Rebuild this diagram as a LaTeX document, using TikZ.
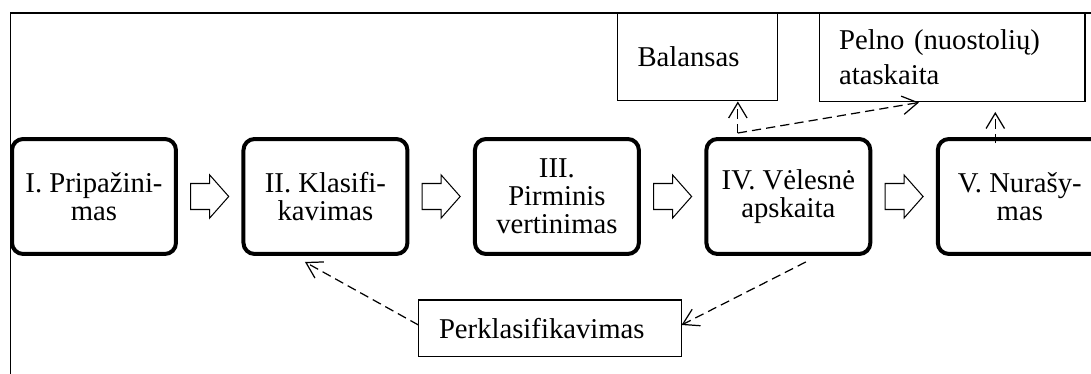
\documentclass[tikz,border=0pt]{standalone}
\usepackage{fontspec}
\setmainfont{Liberation Serif}
\usetikzlibrary{arrows.meta,positioning,calc}

\begin{document}
\begin{tikzpicture}[
  x=0.488pt,y=0.488pt,
  font=\fontsize{14}{13.7}\selectfont,
  node distance=31pt,
  stage/.style={rectangle,rounded corners=5.4pt,draw,line width=1.95pt,
                minimum width=80pt,minimum height=56.1pt,
                align=center,inner sep=2pt},
  outbox/.style={rectangle,draw,line width=0.5pt,align=left,
                 inner xsep=9.8pt,inner ysep=0pt},
  frame/.style={draw,line width=0.5pt},
  blk/.style={draw,line width=0.5pt,fill=white,line join=miter},
  dasharr/.style={line width=0.6pt,dash pattern=on 4.5pt off 2.5pt,
                  -{Straight Barb[length=7.5pt,width=9pt]}}
]
% Page: 1091 x 374 px, y counted from the bottom.
\useasboundingbox (0,0) rectangle (1091,374);
\clip (0,0) rectangle (1091,374);
\draw[frame] (10.5,361) rectangle (1120,-20);

% --- Stages
\node[stage] (sI) at (94,177.5) {I. Pripažini-\\mas};
\node[stage,right=of sI] (sII) {II. Klasifi-\\kavimas};
\node[stage,right=of sII] (sIII) {III.\\Pirminis\\vertinimas};
\node[stage,right=of sIII] (sIV) {IV. Vėlesnė\\apskaita};
\node[stage,right=of sIV] (sV) {V. Nurašy-\\mas};

% --- Block arrows between stages
\draw[blk] ($(sI.east)!.5!(sII.west)$) ++(-19,13) -- ++(19,0) -- ++(0,8.5)
   -- ++(19,-21.5) -- ++(-19,-21.5) -- ++(0,8.5) -- ++(-19,0) -- cycle;
\draw[blk] ($(sII.east)!.5!(sIII.west)$) ++(-19,13) -- ++(19,0) -- ++(0,8.5)
   -- ++(19,-21.5) -- ++(-19,-21.5) -- ++(0,8.5) -- ++(-19,0) -- cycle;
\draw[blk] ($(sIII.east)!.5!(sIV.west)$) ++(-19,13) -- ++(19,0) -- ++(0,8.5)
   -- ++(19,-21.5) -- ++(-19,-21.5) -- ++(0,8.5) -- ++(-19,0) -- cycle;
\draw[blk] ($(sIV.east)!.5!(sV.west)$) ++(-19,13) -- ++(19,0) -- ++(0,8.5)
   -- ++(19,-21.5) -- ++(-19,-21.5) -- ++(0,8.5) -- ++(-19,0) -- cycle;

% --- Statements and reclassification
\node[outbox,text width=58.5pt,minimum height=42.9pt] (pBal)
     at (697.5,317) {Balansas};
\node[outbox,text width=110.2pt,minimum height=43.4pt,
      font=\fontsize{14}{17}\selectfont] (pPel)
     at (952,316.5) {Pelno (nuostolių)\\ataskaita};
\node[outbox,text width=108.3pt,minimum height=27.8pt] (pPerk)
     at (550,45.5) {Perklasifikavimas};

% --- Dashed links
\coordinate (ivT) at ($(sIV.north)+(-50.5,4)$);
\coordinate (ivB) at ($(sIV.south)+(17.5,-6)$);
\coordinate (vT) at ($(sV.north)+(-24.5,-6)$);
\coordinate (pelTip) at ($(pPel.south)+(-33,0)$);
\coordinate (vEnd) at ($(vT |- pPel.south)+(0,-9.5)$);
\coordinate (tipII) at ($(sII.south)+(-20.5,-6)$);
\draw[dasharr] (ivT) -- (ivT |- pBal.south);
\draw[dasharr] (ivT) -- (pelTip);
\draw[dasharr] (vT) -- (vEnd);
\draw[dasharr] ($(pPerk.west)+(0,3.5)$) -- (tipII);
\draw[dasharr] (ivB) -- ($(pPerk.east)+(0,3.5)$);
\end{tikzpicture}
\end{document}
